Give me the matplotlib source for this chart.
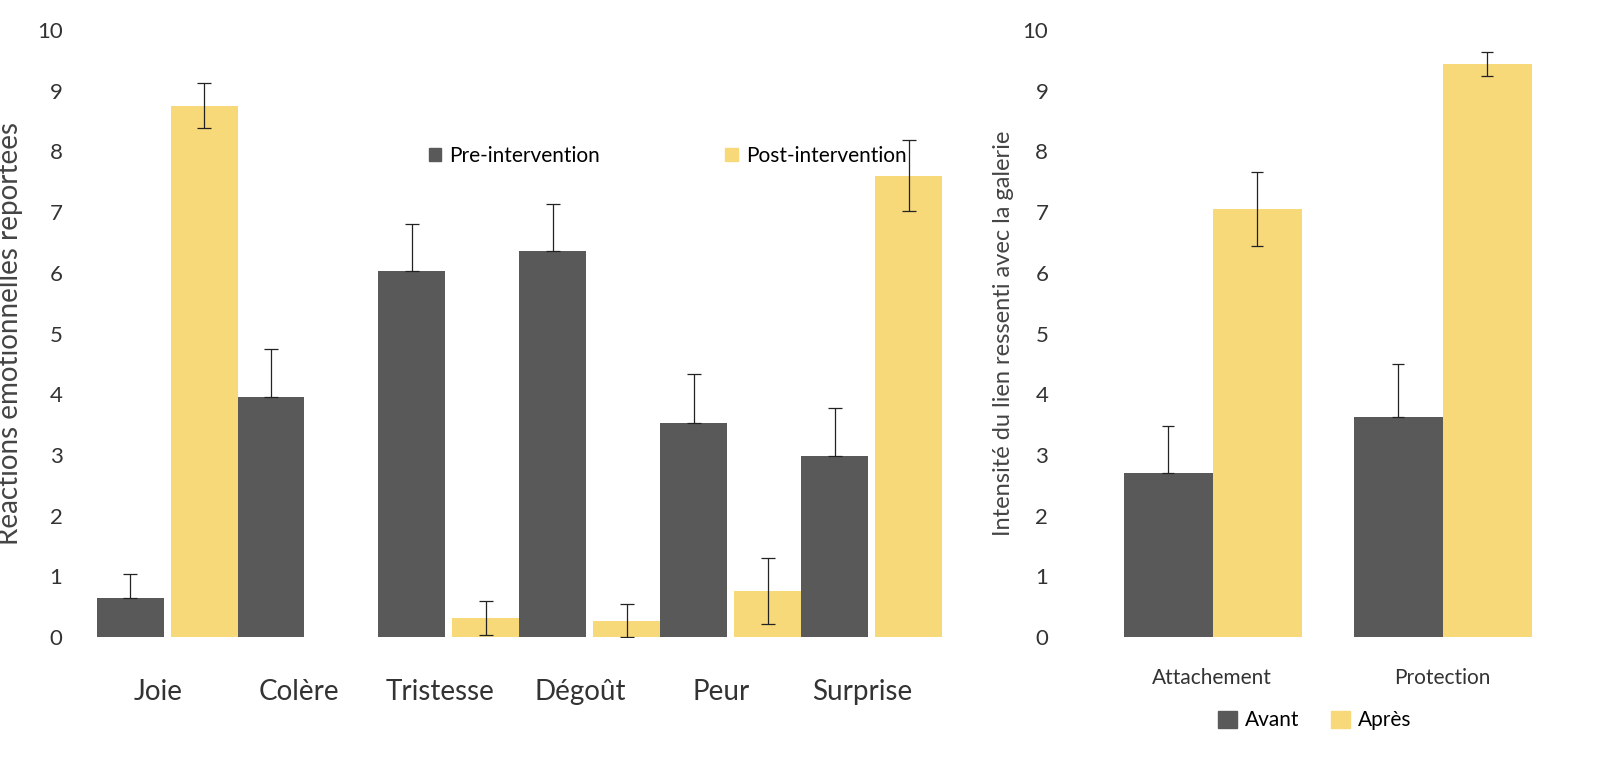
import numpy as np
import matplotlib.pyplot as plt
from matplotlib.patches import Patch

plt.rcParams['font.family'] = ['Lato', 'DejaVu Sans']

emotions = ['Joie', 'Colère', 'Tristesse', 'Dégoût', 'Peur', 'Surprise']
pre_vals = [0.65, 3.95, 6.03, 6.36, 3.52, 2.98]
pre_err = [0.38, 0.80, 0.78, 0.78, 0.81, 0.79]
post_vals = [8.75, 0, 0.31, 0.27, 0.76, 7.6]
post_err = [0.37, 0, 0.28, 0.27, 0.54, 0.59]

items = ['Attachement', 'Protection']
avant_vals = [2.70, 3.63]
avant_err = [0.77, 0.87]
apres_vals = [7.05, 9.44]
apres_err = [0.61, 0.20]

DARK = '#595959'
YELLOW = '#F7D97A'

fig = plt.figure(figsize=(16, 7.6), dpi=100)
W, H = 1600, 760
bottom = (H - 637) / H
height = 607 / H

# left panel (x in pixel-like units)
ax = fig.add_axes([82 / W, bottom, 863 / W, height])
pre_x = 130 + 140.9 * np.arange(len(emotions))
post_x = pre_x + 74
ax.bar(pre_x, pre_vals, width=67, color=DARK, zorder=2)
ax.errorbar(pre_x, pre_vals, yerr=[np.zeros(len(pre_err)), pre_err], fmt='none',
            ecolor='#222222', elinewidth=0.9, capsize=5, capthick=0.9, zorder=3)
post_mask = np.array(post_vals) > 0
ax.bar(post_x[post_mask], np.array(post_vals)[post_mask], width=67, color=YELLOW, zorder=2)
ax.errorbar(post_x[post_mask], np.array(post_vals)[post_mask],
            yerr=np.array(post_err)[post_mask], fmt='none',
            ecolor='#222222', elinewidth=0.9, capsize=5, capthick=0.9, zorder=3)
ax.set_xlim(82, 945)
ax.set_ylim(0, 10)
ax.set_yticks(range(11))
ax.set_xticks(pre_x + 28)
ax.set_xticklabels(emotions, fontsize=20, color='#333333')
ax.tick_params(length=0, labelsize=16, colors='#333333')
ax.tick_params(axis='y', pad=14)
ax.tick_params(axis='x', labelsize=20, pad=30)
ax.set_ylabel('Réactions émotionnelles reportées', fontsize=20, color='#444444', labelpad=10)
for s in ax.spines.values():
    s.set_visible(False)
ax.legend(handles=[Patch(color=DARK, label='Pre-intervention'),
                   Patch(color=YELLOW, label='Post-intervention')],
          loc='upper left', bbox_to_anchor=(0.38, 0.84), ncol=2, frameon=False,
          fontsize=15, handlelength=0.6, handleheight=0.6, handletextpad=0.4,
          columnspacing=6)

# right panel
ax2 = fig.add_axes([1090 / W, bottom, 450 / W, height])
av_x = np.array([1168, 1398])
ap_x = av_x + 89
ax2.bar(av_x, avant_vals, width=89, color=DARK, zorder=2)
ax2.errorbar(av_x, avant_vals, yerr=[np.zeros(2), avant_err], fmt='none',
             ecolor='#222222', elinewidth=0.9, capsize=4, capthick=0.9, zorder=3)
ax2.bar(ap_x, apres_vals, width=89, color=YELLOW, zorder=2)
ax2.errorbar(ap_x, apres_vals, yerr=apres_err, fmt='none',
             ecolor='#222222', elinewidth=0.9, capsize=4, capthick=0.9, zorder=3)
ax2.set_xlim(1090, 1540)
ax2.set_ylim(0, 10)
ax2.set_yticks(range(11))
ax2.set_xticks(av_x + 44)
ax2.set_xticklabels(items)
ax2.tick_params(length=0, labelsize=16, colors='#333333')
ax2.tick_params(axis='x', labelsize=15, pad=22)
ax2.yaxis.set_tick_params(pad=30)
ax2.set_ylabel('Intensité du lien ressenti avec la galerie', fontsize=17, color='#444444', labelpad=6)
for s in ax2.spines.values():
    s.set_visible(False)
ax2.legend(handles=[Patch(color=DARK, label='Avant'), Patch(color=YELLOW, label='Après')],
           loc='upper center', bbox_to_anchor=(0.5, -0.09), ncol=2, frameon=False,
           fontsize=15, handlelength=0.9, handleheight=0.9, handletextpad=0.4,
           columnspacing=1.5)

fig.savefig('out.png', dpi=100)
